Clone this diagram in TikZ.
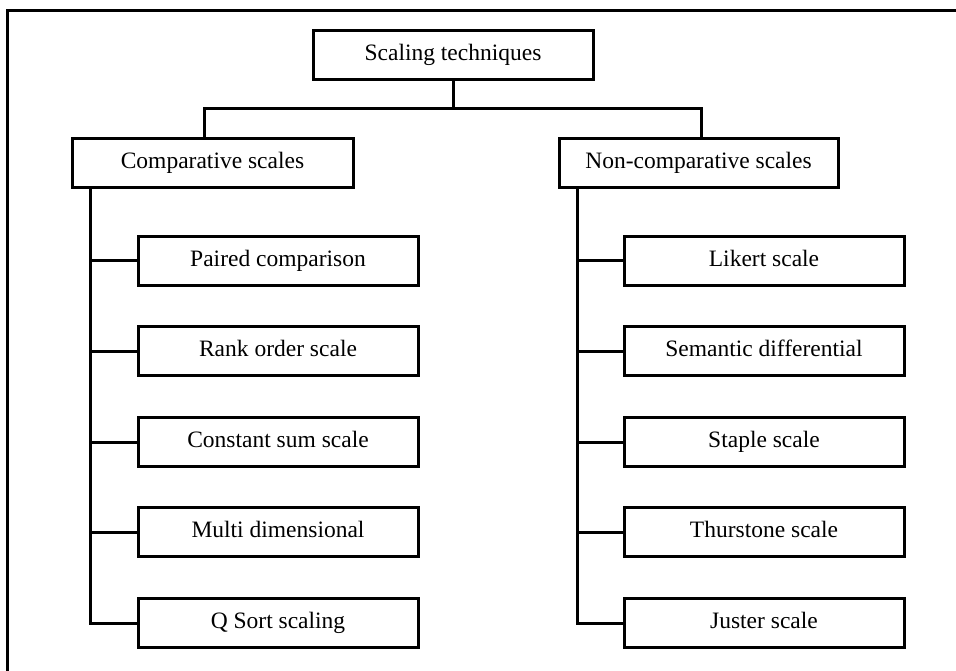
\documentclass[tikz,border=0pt]{standalone}
\usepackage{fontspec}
\setmainfont{Liberation Serif}
\begin{document}
\begin{tikzpicture}[x=1pt,y=-1pt,
  box/.style={draw, line width=3pt, fill=white, minimum width=280pt, minimum height=49pt,
    inner sep=0pt, text height=16pt, text depth=5pt, font=\fontsize{23.5}{26}\selectfont},
  link/.style={line width=3pt}]
\useasboundingbox (0,0) rectangle (956,671);
\fill[white] (0,0) rectangle (956,671);
% outer frame (top and left edges)
\draw[line width=3pt] (7,671) -- (7,11) -- (956,11);

% root and the two families
\node[box] (top) at (453,55.5) {Scaling techniques};
\node[box, minimum width=281pt] (comp) at (212.5,163) {Comparative scales};
\node[box, minimum width=279pt] (ncomp) at (698.5,163) {Non-comparative scales};

% comparative scales
\node[box] (c1) at (278,261) {Paired comparison};
\node[box] (c2) at (278,351) {Rank order scale};
\node[box] (c3) at (278,442) {Constant sum scale};
\node[box] (c4) at (278,532) {Multi dimensional};
\node[box] (c5) at (278,623) {Q Sort scaling};

% non-comparative scales
\node[box] (n1) at (764,261) {Likert scale};
\node[box] (n2) at (764,351) {Semantic differential};
\node[box] (n3) at (764,442) {Staple scale};
\node[box] (n4) at (764,532) {Thurstone scale};
\node[box] (n5) at (764,623) {Juster scale};

% bracket under the root
\coordinate (jl) at (204,109);
\coordinate (jr) at (701,109);
\draw[link] (top.south) -- (top.south |- jl);
\draw[link] (jl |- comp.north) -- (jl) -- (jr) -- (jr |- ncomp.north);

% left spine
\coordinate (sl) at (90.5,0);
\draw[link] (sl |- comp.south) |- (c5.west);
\foreach \n in {c1,c2,c3,c4} \draw[link] (sl |- \n.west) -- (\n.west);

% right spine
\coordinate (sr) at (577.5,0);
\draw[link] (sr |- ncomp.south) |- (n5.west);
\foreach \n in {n1,n2,n3,n4} \draw[link] (sr |- \n.west) -- (\n.west);
\end{tikzpicture}
\end{document}
